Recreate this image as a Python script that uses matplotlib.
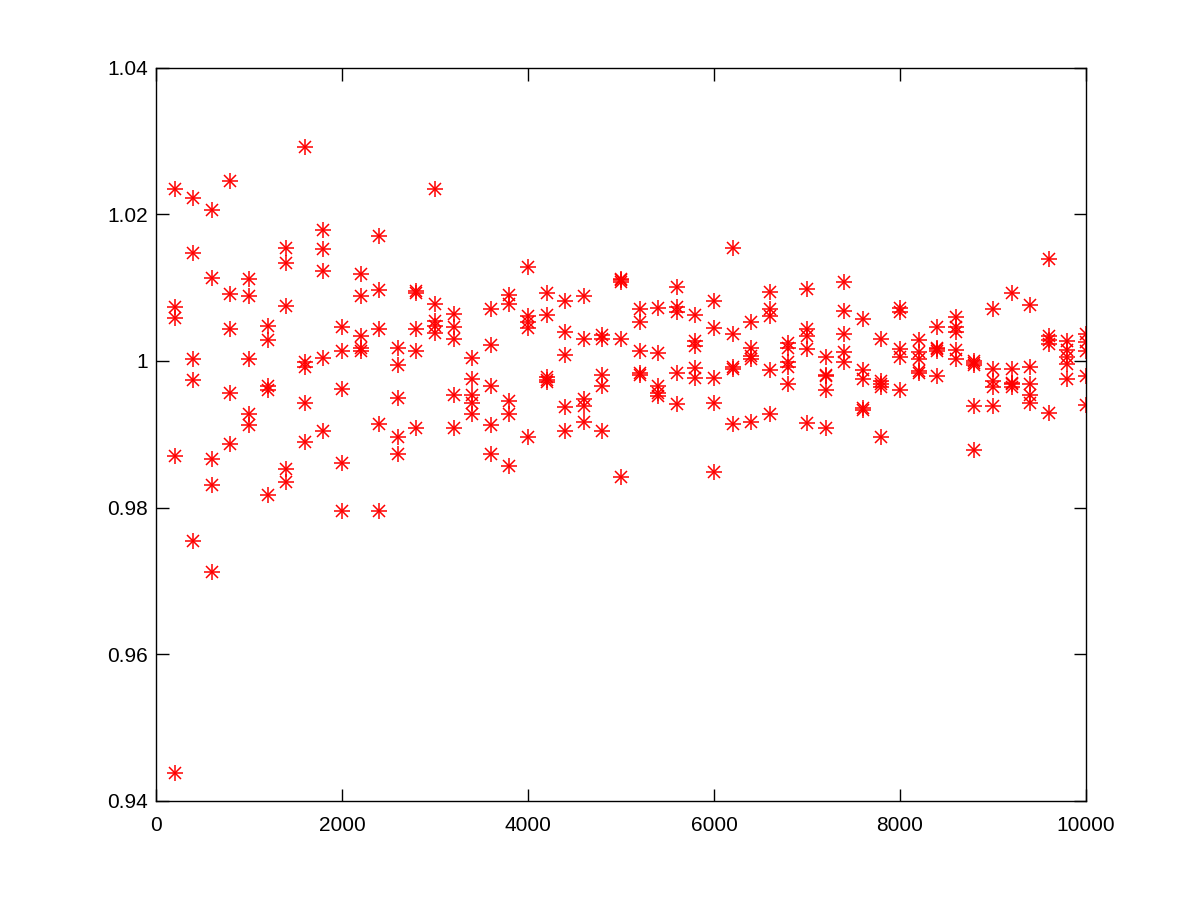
import matplotlib
matplotlib.use("Agg")
import matplotlib.pyplot as plt
import numpy as np

x_values = list(range(200, 10001, 200))

ratio_a = [1.0234, 1.0222, 1.0206, 1.0245, 1.0111, 1.0047, 1.0154, 1.0292, 1.0179, 1.0046,
           1.0119, 1.0170, 1.0018, 1.0095, 1.0235, 1.0064, 1.0004, 1.0071, 1.0090, 1.0128,
           1.0093, 1.0081, 1.0089, 1.0035, 1.0112, 1.0071, 1.0072, 1.0101, 1.0062, 1.0082,
           1.0154, 1.0053, 1.0094, 1.0024, 1.0098, 1.0005, 1.0108, 1.0057, 1.0030, 1.0072,
           1.0028, 1.0046, 1.0060, 1.0000, 1.0071, 1.0093, 1.0076, 1.0139, 1.0027, 1.0036]
ratio_b = [1.0074, 1.0147, 1.0113, 1.0091, 1.0089, 1.0029, 1.0134, 0.9999, 1.0152, 1.0014,
           1.0089, 1.0097, 0.9995, 1.0093, 1.0077, 1.0046, 0.9975, 1.0022, 1.0078, 1.0061,
           1.0063, 1.0039, 1.0030, 1.0030, 1.0110, 1.0053, 1.0011, 1.0073, 1.0027, 1.0045,
           1.0036, 1.0018, 1.0071, 1.0018, 1.0044, 0.9981, 1.0068, 0.9987, 0.9972, 1.0066,
           1.0012, 1.0018, 1.0046, 0.9997, 0.9989, 0.9989, 0.9992, 1.0034, 1.0015, 1.0026]
ratio_c = [1.0059, 1.0002, 0.9866, 1.0043, 1.0003, 0.9966, 1.0075, 0.9992, 1.0123, 0.9962,
           1.0034, 1.0043, 0.9950, 1.0044, 1.0055, 1.0030, 0.9954, 0.9966, 0.9945, 1.0053,
           0.9978, 1.0008, 0.9948, 0.9981, 1.0108, 1.0014, 0.9966, 1.0066, 1.0020, 0.9977,
           0.9992, 1.0006, 1.0061, 0.9998, 1.0034, 0.9979, 1.0036, 0.9975, 0.9968, 1.0016,
           1.0002, 1.0016, 1.0039, 0.9995, 0.9973, 0.9970, 0.9969, 1.0029, 1.0005, 1.0013]
ratio_d = [0.9871, 0.9974, 0.9831, 0.9956, 0.9927, 0.9961, 0.9852, 0.9942, 1.0004, 0.9861,
           1.0018, 0.9914, 0.9896, 1.0013, 1.0047, 0.9953, 0.9942, 0.9912, 0.9927, 1.0045,
           0.9974, 0.9937, 0.9939, 0.9966, 1.0030, 0.9984, 0.9956, 0.9983, 0.9990, 0.9943,
           0.9989, 1.0003, 0.9987, 0.9992, 1.0016, 0.9960, 1.0012, 0.9936, 0.9964, 1.0005,
           0.9986, 1.0014, 1.0015, 0.9938, 0.9964, 0.9968, 0.9954, 1.0023, 0.9996, 0.9980]
ratio_e = [0.9438, 0.9754, 0.9712, 0.9887, 0.9912, 0.9817, 0.9835, 0.9889, 0.9904, 0.9796,
           1.0013, 0.9795, 0.9873, 0.9909, 1.0038, 0.9909, 0.9927, 0.9873, 0.9857, 0.9896,
           0.9971, 0.9905, 0.9917, 0.9905, 0.9842, 0.9981, 0.9952, 0.9941, 0.9977, 0.9849,
           0.9914, 0.9917, 0.9927, 0.9969, 0.9915, 0.9909, 0.9999, 0.9933, 0.9896, 0.9961,
           0.9984, 0.9979, 1.0003, 0.9878, 0.9938, 0.9965, 0.9943, 0.9929, 0.9976, 0.9940]

x_ticks = [0, 2000, 4000, 6000, 8000, 10000]
y_ticks = [0.94, 0.96, 0.98, 1.00, 1.02, 1.04]
y_tick_labels = ["0.94", "0.96", "0.98", "1", "1.02", "1.04"]

plt.rcParams['font.family'] = ['Liberation Sans', 'DejaVu Sans']

fig = plt.figure(figsize=(12, 9), dpi=100)
ax = fig.add_axes([0.13, 0.11, 0.775, 0.815])

xs = np.tile(np.array(x_values, dtype=float), 5)
ys = np.concatenate([ratio_a, ratio_b, ratio_c, ratio_d, ratio_e])

ax.plot(xs, ys, linestyle='none', marker='+', markersize=11, markeredgewidth=1.1, color='#ff0000')
ax.plot(xs, ys, linestyle='none', marker='x', markersize=8, markeredgewidth=1.1, color='#ff0000')

ax.set_xlim(0, 10000)
ax.set_ylim(0.94, 1.04)
ax.set_xticks(x_ticks)
ax.set_xticklabels([str(t) for t in x_ticks])
ax.set_yticks(y_ticks)
ax.set_yticklabels(y_tick_labels)

ax.tick_params(direction='in', length=9, width=1, top=True, right=True,
               labelsize=15, colors='black')
ax.tick_params(axis='x', pad=11)
ax.tick_params(axis='y', pad=6)
for s in ax.spines.values():
    s.set_linewidth(1.0)
    s.set_color('black')

fig.savefig("out.png", dpi=100)
